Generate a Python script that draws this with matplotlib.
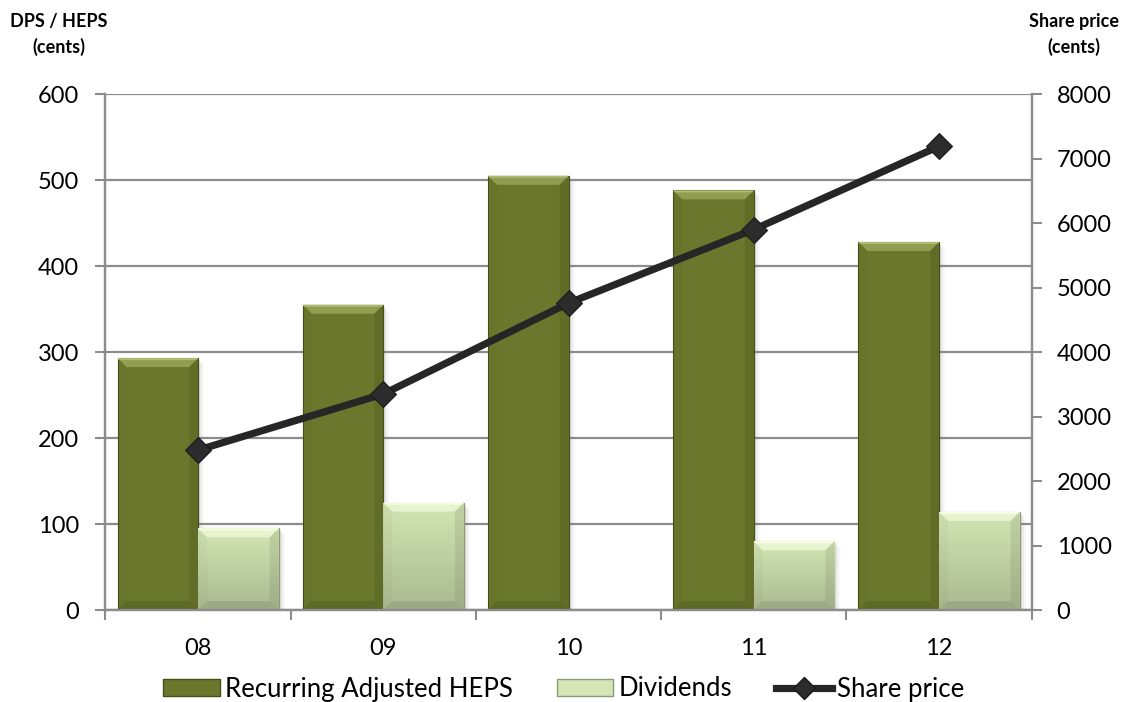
import numpy as np
import matplotlib
matplotlib.use("Agg")
import matplotlib.pyplot as plt
from matplotlib.patches import Polygon, Patch
from matplotlib.lines import Line2D
from matplotlib.colors import LinearSegmentedColormap

# ---- data ----
years = ["08", "09", "10", "11", "12"]
heps = [293, 355, 505, 488, 428]                # Recurring Adjusted HEPS (cents)
dividends = [95, 125, np.nan, 80, 114]           # Dividends (cents)
share_price = [2480, 3350, 4760, 5900, 7190]     # Share price (cents)

left_ticks = [0, 100, 200, 300, 400, 500, 600]
right_ticks = [0, 1000, 2000, 3000, 4000, 5000, 6000, 7000, 8000]

# ---- style ----
plt.rcParams['font.family'] = ['Lato', 'DejaVu Sans']
HEPS_COLOR = '#6a772c'
HEPS_EDGE = '#44501a'
DIV_TOP = '#d3e6b3'
DIV_BOTTOM = '#a9b98f'
DIV_EDGE = '#8d9a76'
LINE_COLOR = '#262626'
GRID_COLOR = '#8c8c8c'
TICK_FS = 17
LEG_FS = 18.5

fig = plt.figure(figsize=(11.28, 7.02), dpi=100)
ax = fig.add_axes([0.0935, 0.131, 0.8211, 0.735])
ax2 = ax.twinx()

x = np.arange(len(years))
w = 0.435

ax.set_xlim(-0.5, len(years) - 0.5)
ax.set_ylim(left_ticks[0], left_ticks[-1])
ax2.set_ylim(right_ticks[0], right_ticks[-1])

bars_h = ax.bar(x - w / 2, heps, w, color=HEPS_COLOR, edgecolor=HEPS_EDGE,
                linewidth=0.8, zorder=3)
bars_d = ax.bar(x + w / 2, dividends, w, color=DIV_TOP, edgecolor=DIV_EDGE,
                linewidth=0.8, zorder=3)

# vertical gradient inside the dividend bars
div_cmap = LinearSegmentedColormap.from_list('div', [DIV_BOTTOM, DIV_TOP])
grad = np.linspace(0, 1, 256).reshape(-1, 1)
for b in bars_d:
    h = b.get_height()
    if not np.isfinite(h) or h <= 0:
        continue
    im = ax.imshow(grad, cmap=div_cmap, origin='lower', aspect='auto',
                   extent=[b.get_x(), b.get_x() + b.get_width(), 0, h],
                   zorder=3.1, interpolation='bilinear')
    im.set_clip_path(b)
ax.set_xlim(-0.5, len(years) - 0.5)
ax.set_ylim(left_ticks[0], left_ticks[-1])

# bevel edges and soft shadow on every bar
to_data = ax.transData.inverted()
bev = 9.0  # pixels


def bevel(bar, light, dark, side_dark, highlight):
    h = bar.get_height()
    if not np.isfinite(h) or h <= 0:
        return
    (x0, y0) = ax.transData.transform((bar.get_x(), 0))
    (x1, y1) = ax.transData.transform((bar.get_x() + bar.get_width(), h))
    b = min(bev, (y1 - y0) / 2)

    def poly(pts, color, alpha, z=3.2):
        d = to_data.transform(np.array(pts))
        ax.add_patch(Polygon(d, closed=True, facecolor=color, edgecolor='none',
                             alpha=alpha, zorder=z))

    # soft shadow to the lower right
    for off, al in ((2, 0.18), (4, 0.10), (6, 0.05)):
        poly([(x0 + off, y0 - off), (x1 + off, y0 - off), (x1 + off, y1 - off),
              (x1, y1 - off), (x1, y0), (x0 + off, y0)], '#808080', al, z=2.9)
    poly([(x0, y1), (x1, y1), (x1 - b, y1 - b), (x0 + b, y1 - b)], light, 0.7)
    poly([(x0, y1), (x1, y1), (x1 - 1, y1 - 2), (x0 + 1, y1 - 2)], highlight, 0.8)
    poly([(x0, y0), (x1, y0), (x1 - b, y0 + b), (x0 + b, y0 + b)], dark, 0.25)
    poly([(x1, y0), (x1, y1), (x1 - b, y1 - b), (x1 - b, y0 + b)], side_dark, 0.18)
    poly([(x0, y0), (x0, y1), (x0 + b, y1 - b), (x0 + b, y0 + b)], dark, 0.06)


for b in bars_h:
    bevel(b, '#a2b061', '#3a4413', '#3a4413', '#b8c57a')
for b in bars_d:
    bevel(b, '#f2fcdc', '#6f7b5c', '#6f7b5c', '#fbffe8')

# share price line
ax2.plot(x, share_price, color=LINE_COLOR, linewidth=5.2, marker='D',
         markersize=13, markerfacecolor='#2c2c2c', markeredgecolor='#1a1a1a',
         markeredgewidth=0.8, zorder=5, solid_capstyle='round')

# ---- axes styling ----
ax.set_yticks(left_ticks)
ax2.set_yticks(right_ticks)
ax.yaxis.grid(True, color=GRID_COLOR, linewidth=1.6, zorder=0)
ax.set_axisbelow(True)

ax.set_xticks(x)
ax.set_xticklabels(years)
ax.set_xticks(np.arange(len(years) + 1) - 0.5, minor=True)
ax.tick_params(axis='x', which='major', length=0, pad=20, labelsize=TICK_FS)
ax.tick_params(axis='x', which='minor', length=7, width=1.5, color=GRID_COLOR,
               direction='out')
ax.tick_params(axis='y', length=7, width=1.5, color=GRID_COLOR, pad=12,
               labelsize=TICK_FS, direction='out')
ax2.tick_params(axis='y', length=7, width=1.5, color=GRID_COLOR, pad=11,
                labelsize=TICK_FS, direction='out')

for a in (ax, ax2):
    a.spines['top'].set_visible(False)
    for s in ('left', 'right', 'bottom'):
        a.spines[s].set_color(GRID_COLOR)
        a.spines[s].set_linewidth(1.6)

# axis titles
TITLE_FS = 13
fig.text(59 / 1128, 1 - 21 / 702, 'DPS / HEPS', ha='center', va='center',
         fontsize=TITLE_FS, fontweight='bold')
fig.text(59 / 1128, 1 - 47 / 702, '(cents)', ha='center', va='center',
         fontsize=TITLE_FS, fontweight='bold')
fig.text(1074 / 1128, 1 - 22 / 702, 'Share price', ha='center', va='center',
         fontsize=TITLE_FS, fontweight='bold')
fig.text(1074 / 1128, 1 - 47 / 702, '(cents)', ha='center', va='center',
         fontsize=TITLE_FS, fontweight='bold')

# legend
handles = [
    Patch(facecolor=HEPS_COLOR, edgecolor=HEPS_EDGE, linewidth=1.0),
    Patch(facecolor=DIV_TOP, edgecolor=DIV_EDGE, linewidth=1.0),
    Line2D([0], [0], color=LINE_COLOR, linewidth=5.2, marker='D', markersize=11,
           markerfacecolor='#2c2c2c', markeredgecolor='#1a1a1a'),
]
labels = ['Recurring Adjusted HEPS', 'Dividends', 'Share price']
fig.legend(handles, labels, loc='center', bbox_to_anchor=(0.5, 1 - 689 / 702),
           ncol=3, frameon=False, fontsize=LEG_FS, handlelength=2.2,
           handleheight=0.6, handletextpad=0.2, columnspacing=1.7,
           borderaxespad=0)

fig.savefig('out.png', dpi=100)
